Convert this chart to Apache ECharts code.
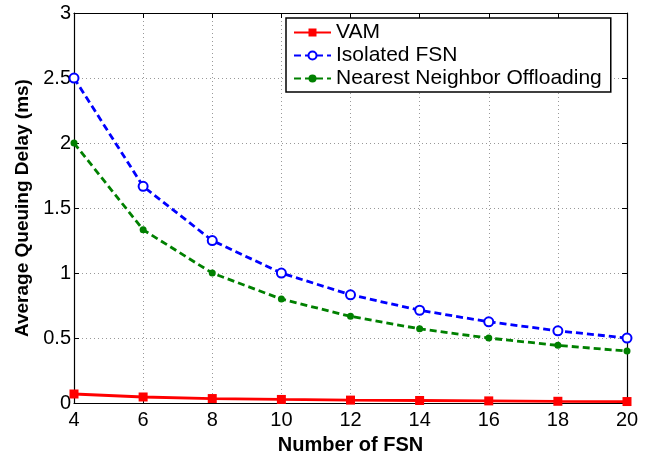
<!DOCTYPE html>
<html><head><meta charset="utf-8">
<script src="https://cdn.jsdelivr.net/npm/echarts@6/dist/echarts.min.js"></script>
<style>html,body{margin:0;padding:0;background:#fff}#c{width:651px;height:460px}</style>
</head><body><div id="c"></div>
<script>
const xValues = [4, 6, 8, 10, 12, 14, 16, 18, 20];
const vam = [0.07, 0.047, 0.035, 0.028, 0.023, 0.02, 0.017, 0.014, 0.012];
const isolated = [2.5, 1.667, 1.25, 1.0, 0.833, 0.714, 0.625, 0.556, 0.5];
const nearest = [2.0, 1.333, 1.0, 0.8, 0.667, 0.571, 0.5, 0.444, 0.4];
const seriesNames = ['VAM', 'Isolated FSN', 'Nearest Neighbor Offloading'];

const pairs = arr => xValues.map((x, i) => [x, arr[i]]);
const font = 'Liberation Sans, Arial, sans-serif';
const chart = echarts.init(document.getElementById('c'));
const axisCommon = {
  axisLine: {show: true, onZero: false, lineStyle: {color: '#000', width: 1.2}},
  axisTick: {show: true, inside: true, length: 5, lineStyle: {color: '#000'}},
};
chart.setOption({
  animation: false,
  grid: {left: 74, right: 24, top: 13, bottom: 50},
  legend: {
    orient: 'vertical', left: 286, top: 18,
    data: seriesNames,
    borderColor: '#000', borderWidth: 1.5, padding: [4, 9, 3, 7],
    itemWidth: 37, itemHeight: 10, itemGap: 2,
    textStyle: {fontFamily: font, fontSize: 21, color: '#000', lineHeight: 21},
    backgroundColor: '#fff'
  },
  xAxis: [{
    type: 'value', min: 4, max: 20, interval: 2, position: 'bottom',
    name: 'Number of FSN', nameLocation: 'middle', nameGap: 28,
    nameTextStyle: {fontFamily: font, fontSize: 20, fontWeight: 'bold', color: '#000'},
    axisLabel: {fontFamily: font, fontSize: 20, color: '#000', margin: 7},
    splitLine: {show: true, lineStyle: {color: '#999', type: [1, 3], width: 1}},
    ...axisCommon
  }, {
    type: 'value', min: 4, max: 20, interval: 2, position: 'top',
    axisLabel: {show: false}, splitLine: {show: false},
    ...axisCommon
  }],
  yAxis: [{
    type: 'value', min: 0, max: 3, interval: 0.5, position: 'left',
    name: 'Average Queuing Delay (ms)', nameLocation: 'middle', nameGap: 40,
    nameTextStyle: {fontFamily: font, fontSize: 19, fontWeight: 'bold', color: '#000'},
    axisLabel: {fontFamily: font, fontSize: 20, color: '#000', margin: 3},
    splitLine: {show: true, lineStyle: {color: '#999', type: [1, 3], width: 1}},
    ...axisCommon
  }, {
    type: 'value', min: 0, max: 3, interval: 0.5, position: 'right',
    axisLabel: {show: false}, splitLine: {show: false},
    ...axisCommon
  }],
  series: [{
    name: seriesNames[0], type: 'line', data: pairs(vam),
    symbol: 'rect', symbolSize: 9, z: 5,
    lineStyle: {color: '#ff0000', width: 2.8},
    itemStyle: {color: '#ff0000'}
  }, {
    name: seriesNames[1], type: 'line', data: pairs(isolated),
    symbol: 'emptyCircle', symbolSize: 9,
    lineStyle: {color: '#0000ff', width: 2.8, type: [7, 4]},
    itemStyle: {color: '#0000ff', borderWidth: 2}
  }, {
    name: seriesNames[2], type: 'line', data: pairs(nearest),
    symbol: 'circle', symbolSize: 7,
    lineStyle: {color: '#008000', width: 2.8, type: [7, 4]},
    itemStyle: {color: '#008000'}
  }]
});
</script></body></html>
